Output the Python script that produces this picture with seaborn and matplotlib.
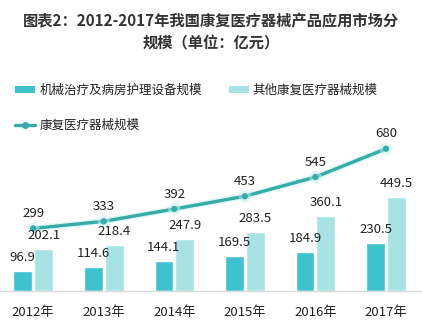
import matplotlib
matplotlib.use("Agg")
import matplotlib.pyplot as plt
import matplotlib.patheffects as pe
from matplotlib.patches import Patch
from matplotlib.lines import Line2D
import seaborn as sns
import pandas as pd

years = ["2012年", "2013年", "2014年", "2015年", "2016年", "2017年"]
mech_nursing = [96.9, 114.6, 144.1, 169.5, 184.9, 230.5]
other_rehab = [202.1, 218.4, 247.9, 283.5, 360.1, 449.5]
rehab_total = [299, 333, 392, 453, 545, 680]

name_mech = "机械治疗及病房护理设备规模"
name_other = "其他康复医疗器械规模"
name_total = "康复医疗器械规模"

c_mech = "#3EC3CE"
c_other = "#A7E3E2"
c_line = "#36ABA7"

sns.set_theme(style="white")
plt.rcParams["font.family"] = ["Noto Sans CJK SC", "DejaVu Sans"]

bars = pd.DataFrame({
    "year": years * 2,
    "value": mech_nursing + other_rehab,
    "series": [name_mech] * len(years) + [name_other] * len(years),
})
line = pd.DataFrame({"pos": list(range(len(years))), "value": rehab_total})

fig = plt.figure(figsize=(4.22, 3.31), dpi=100)
ax = fig.add_axes([0.0, 0.121, 1.0, 0.456])

sns.barplot(data=bars, x="year", y="value", hue="series",
            palette=[c_mech, c_other], width=0.59, gap=0.1,
            ax=ax, legend=False, saturation=1)
sns.lineplot(data=line, x="pos", y="value", ax=ax, color=c_line,
             linewidth=2.4, marker="o", markersize=4.5, markeredgewidth=0,
             legend=False,
             path_effects=[pe.Stroke(linewidth=4.5, foreground="#C4F0F1", alpha=0.5),
                           pe.Normal()])

# value labels above the bars and the line points
for cont, vals in zip(ax.containers, [mech_nursing, other_rehab]):
    ax.bar_label(cont, labels=[f"{v:.1f}" for v in vals], padding=5,
                 fontsize=9.5, color="#222222")
for i, v in enumerate(rehab_total):
    ax.annotate(f"{v}", (i, v), xytext=(0, 6), textcoords="offset points",
                ha="center", va="bottom", fontsize=9.5, color="#222222")

ax.set_xlim(-0.47, 5.51)
ax.set_ylim(0, 722)
ax.set_xlabel("")
ax.set_ylabel("")
ax.set_yticks([])
ax.tick_params(axis="x", length=0, pad=11, labelsize=9.5, labelcolor="#222222")
for side in ["top", "right", "left"]:
    ax.spines[side].set_visible(False)
ax.spines["bottom"].set_color("#D9D9D9")
ax.spines["bottom"].set_linewidth(1)
ax.set_facecolor("none")

handles = [
    Patch(facecolor=c_mech, edgecolor="none"),
    Line2D([0], [0], color=c_line, linewidth=2.4, marker="o", markersize=4),
    Patch(facecolor=c_other, edgecolor="none"),
]
labels = [name_mech, name_total, name_other]
fig.legend(handles, labels, ncol=2, loc="upper left",
           bbox_to_anchor=(0.01, 0.78), frameon=False, fontsize=9,
           handlelength=1.6, handleheight=0.5, handletextpad=0.3,
           columnspacing=2.2, labelspacing=1.75, labelcolor="#222222")

fig.text(0.5, 0.935, "图表2：2012-2017年我国康复医疗器械产品应用市场分",
         ha="center", va="center", fontsize=11, fontweight="bold", color="#333333")
fig.text(0.5, 0.87, "规模（单位：亿元）",
         ha="center", va="center", fontsize=11, fontweight="bold", color="#333333")

fig.savefig("out.png", dpi=100)
